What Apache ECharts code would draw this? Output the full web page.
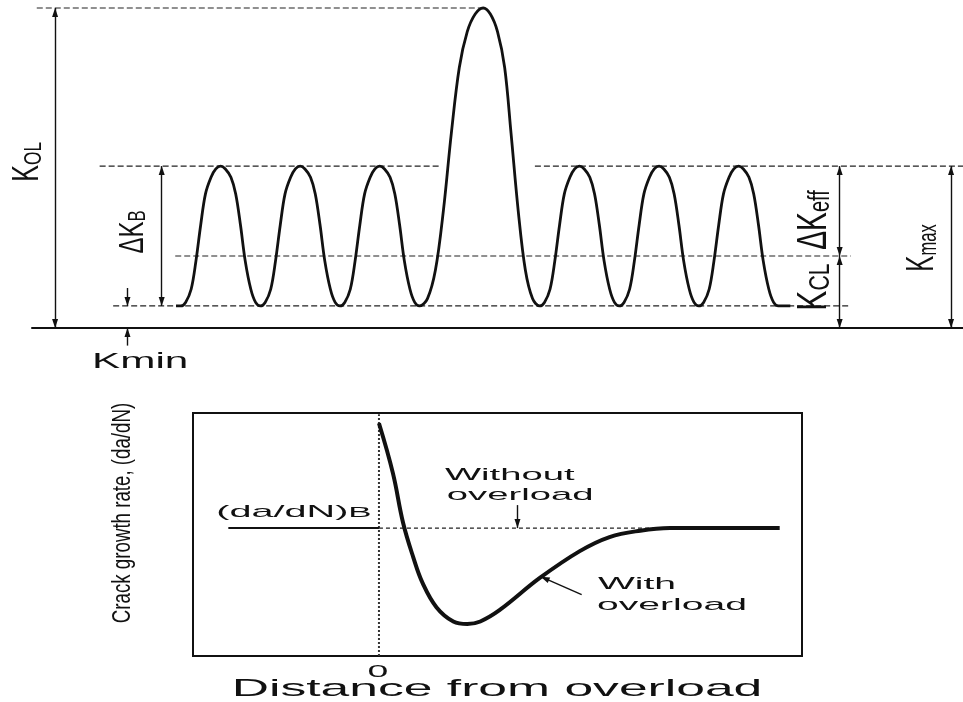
<!DOCTYPE html>
<html>
<head>
<meta charset="utf-8">
<script src="https://cdn.jsdelivr.net/npm/echarts@6/dist/echarts.min.js"></script>
<style>html,body{margin:0;padding:0;background:#fff}#c{width:963px;height:702px}</style>
</head>
<body>
<div id="c"></div>
<script>
// ================= DATA =================
// Top panel: stress-intensity levels (arbitrary units, baseline K = 0)
const K_OL = 10;
const K_MAX = 5.06;
const K_CL = 2.25;
const K_MIN = 0.69;

// Load sequence [time (cycles), K]
const loadPath = [
  [1.81, 0.69], [1.87, 0.69],
  [1.93, 0.80], [2.00, 1.21], [2.06, 2.09], [2.12, 3.22], [2.18, 4.19], [2.25, 4.71], [2.31, 4.97], [2.37, 5.06],
  [2.43, 4.97], [2.50, 4.71], [2.56, 4.19], [2.62, 3.22], [2.68, 2.09], [2.75, 1.21], [2.81, 0.80], [2.87, 0.69],
  [2.93, 0.80], [3.00, 1.21], [3.06, 2.09], [3.12, 3.22], [3.18, 4.19], [3.25, 4.71], [3.31, 4.97], [3.37, 5.06],
  [3.43, 4.97], [3.50, 4.71], [3.56, 4.19], [3.62, 3.22], [3.68, 2.09], [3.75, 1.21], [3.81, 0.80], [3.87, 0.69],
  [3.93, 0.80], [4.00, 1.21], [4.06, 2.09], [4.12, 3.22], [4.18, 4.19], [4.25, 4.71], [4.31, 4.97], [4.37, 5.06],
  [4.43, 4.97], [4.50, 4.71], [4.56, 4.19], [4.62, 3.22], [4.68, 2.09], [4.75, 1.21], [4.81, 0.80], [4.87, 0.69],
  [4.97, 0.92], [5.07, 1.81], [5.17, 3.67], [5.27, 6.09], [5.37, 8.14], [5.47, 9.26], [5.57, 9.81], [5.67, 10.0],
  [5.76, 9.81], [5.85, 9.26], [5.94, 8.14], [6.02, 6.09], [6.11, 3.67], [6.20, 1.81], [6.29, 0.92], [6.38, 0.69],
  [6.44, 0.80], [6.51, 1.21], [6.57, 2.09], [6.63, 3.22], [6.69, 4.19], [6.76, 4.71], [6.82, 4.97], [6.88, 5.06],
  [6.94, 4.97], [7.01, 4.71], [7.07, 4.19], [7.13, 3.22], [7.19, 2.09], [7.26, 1.21], [7.32, 0.80], [7.38, 0.69],
  [7.44, 0.80], [7.51, 1.21], [7.57, 2.09], [7.63, 3.22], [7.69, 4.19], [7.76, 4.71], [7.82, 4.97], [7.88, 5.06],
  [7.94, 4.97], [8.01, 4.71], [8.07, 4.19], [8.13, 3.22], [8.19, 2.09], [8.26, 1.21], [8.32, 0.80], [8.38, 0.69],
  [8.44, 0.80], [8.51, 1.21], [8.57, 2.09], [8.63, 3.22], [8.69, 4.19], [8.76, 4.71], [8.82, 4.97], [8.88, 5.06],
  [8.94, 4.97], [9.01, 4.71], [9.07, 4.19], [9.13, 3.22], [9.19, 2.09], [9.26, 1.21], [9.32, 0.80], [9.38, 0.69],
  [9.53, 0.69]
];

// Extents (time) of the dashed reference levels
const olLineSpan = [0.06, 5.67];
const maxLineLeft = [0.85, 5.13];
const maxLineRight = [6.32, 11.7];
const clLineSpan = [1.80, 10.29];
const minLineSpan = [1.02, 10.29];

// Bottom panel: crack growth rate vs distance from overload
const RATE_B = 1.0;
const rateWithOverload = [
  [0.00, 1.82], [0.15, 1.43], [0.26, 1.04], [0.37, 0.77], [0.47, 0.57], [0.62, 0.38],
  [0.80, 0.27], [0.95, 0.25], [1.09, 0.27], [1.30, 0.36], [1.73, 0.61], [2.16, 0.82],
  [2.48, 0.93], [2.81, 0.98], [3.13, 1.00], [3.50, 1.00], [4.31, 1.00]
];
const rateBeforeSpan = [-1.62, 0];
const rateWithoutSpan = [0, 3.0];
const overloadPosition = 0;

// ================= LAYOUT / STYLE =================
const FONT = "'Liberation Sans', Arial, Helvetica, sans-serif";
const INK = '#111';

function seg(gi, data, lineStyle, extra) {
  return Object.assign({
    type: 'line', xAxisIndex: gi, yAxisIndex: gi, data: data,
    symbol: 'none', showSymbol: false, clip: false, silent: true,
    animation: false, lineStyle: lineStyle, emphasis: { disabled: true }
  }, extra || {});
}

const dashTop = { color: '#222', width: 1.2, type: [6, 3] };

// Dimension arrows (annotation positions)
function arr(from, to, h0, h1) {
  return [
    { coord: from, symbol: h0 ? 'triangle' : 'none' },
    { coord: to, symbol: h1 ? 'triangle' : 'none' }
  ];
}
const topArrows = [
  arr([0.29, K_OL], [0.29, 0], true, true),
  arr([1.63, K_MAX], [1.63, K_MIN], true, true),
  arr([1.20, 1.25], [1.20, K_MIN], false, true),
  arr([1.20, -0.55], [1.20, 0], false, true),
  arr([10.15, K_MAX], [10.15, K_CL], true, true),
  arr([10.15, K_CL], [10.15, 0], true, true),
  arr([11.55, K_MAX], [11.55, 0], true, true)
];
const bottomArrows = [
  arr([1.49, 1.18], [1.49, RATE_B], false, true),
  arr([2.18, 0.48], [1.74, 0.62], false, true)
];
const markStyle = {
  silent: true, animation: false,
  symbolSize: [6, 9],
  symbolOffset: [[0, '50%'], [0, '50%']],
  label: { show: false },
  emphasis: { disabled: true },
  lineStyle: { color: INK, width: 1.4, type: 'solid' }
};

const chart = echarts.init(document.getElementById('c'));

const option = {
  backgroundColor: '#fff',
  animation: false,
  grid: [
    { left: 32, right: 0, top: 0, height: 376, show: false },
    { left: 193, top: 413, width: 609, height: 243, show: true, borderColor: INK, borderWidth: 2, backgroundColor: 'transparent' }
  ],
  xAxis: [
    { type: 'value', gridIndex: 0, min: 0, max: 11.7,
      axisLine: { show: true, onZero: true, lineStyle: { color: INK, width: 2 } },
      axisTick: { show: false }, axisLabel: { show: false }, splitLine: { show: false } },
    { type: 'value', gridIndex: 1, min: -2, max: 4.55,
      axisLine: { show: false }, axisTick: { show: false }, axisLabel: { show: false }, splitLine: { show: false } }
  ],
  yAxis: [
    { type: 'value', gridIndex: 0, min: -1.5, max: 10.25, show: false },
    { type: 'value', gridIndex: 1, min: 0, max: 1.9, show: false }
  ],
  series: [
    // top reference levels
    seg(0, [[olLineSpan[0], K_OL], [olLineSpan[1], K_OL]], dashTop),
    seg(0, [[maxLineLeft[0], K_MAX], [maxLineLeft[1], K_MAX]], dashTop),
    seg(0, [[maxLineRight[0], K_MAX], [maxLineRight[1], K_MAX]], dashTop),
    seg(0, [[clLineSpan[0], K_CL], [clLineSpan[1], K_CL]], dashTop),
    seg(0, [[minLineSpan[0], K_MIN], [minLineSpan[1], K_MIN]], dashTop,
      { markLine: Object.assign({ data: topArrows }, markStyle) }),
    // load sequence
    seg(0, loadPath, { color: INK, width: 2.8 }, { smooth: 0.35, z: 5 }),
    // bottom panel
    seg(1, [[overloadPosition, 0], [overloadPosition, 1.89]], { color: '#333', width: 2, type: [2, 2] }),
    seg(1, [[rateBeforeSpan[0], RATE_B], [rateBeforeSpan[1], RATE_B]], { color: INK, width: 2 }),
    seg(1, [[rateWithoutSpan[0], RATE_B], [rateWithoutSpan[1], RATE_B]], { color: '#222', width: 1.4, type: [4, 3] },
      { markLine: Object.assign({ data: bottomArrows }, markStyle) }),
    seg(1, rateWithOverload, { color: INK, width: 4 }, { smooth: 0.4, z: 5 })
  ]
};
chart.setOption(option);

// ================= TEXT LABELS (anchored in data space) =================
const labelSpecs = [
  { g: 0, at: [-0.05, 5.19], rot: 90, sx: 1.15, sy: 1.65, parts: [['K', 22], ['OL', 15]] },
  { g: 0, at: [1.27, 3.0], rot: 90, sx: 1.2, sy: 1.75, parts: [['\u0394K', 20], ['B', 14]] },
  { g: 0, at: [9.83, 3.375], rot: 90, sx: 1.18, sy: 1.75, parts: [['\u0394K', 24], ['eff', 17]] },
  { g: 0, at: [9.83, 1.28], rot: 90, sx: 1.25, sy: 1.75, parts: [['K', 24], ['CL', 17]] },
  { g: 0, at: [11.19, 2.5], rot: 90, sx: 1.1, sy: 1.75, parts: [['K', 22], ['max', 15]] },
  { g: 0, at: [1.36, -1.05], rot: 0, sx: 1.92, sy: 1, parts: [['K', 22], ['min', 22]] },
  { g: 1, at: [-0.914, 1.126], rot: 0, sx: 2.33, sy: 1, parts: [['(da/dN)', 17], ['B', 15]] },
  { g: 1, at: [0.71, 1.415], rot: 0, sx: 2.25, sy: 1, align: 'left', parts: [['Without', 17]] },
  { g: 1, at: [0.73, 1.259], rot: 0, sx: 2.25, sy: 1, align: 'left', parts: [['overload', 17]] },
  { g: 1, at: [2.355, 0.563], rot: 0, sx: 2.3, sy: 1, align: 'left', parts: [['With', 17]] },
  { g: 1, at: [2.345, 0.399], rot: 0, sx: 2.3, sy: 1, align: 'left', parts: [['overload', 17]] },
  { g: 1, at: [-0.01, -0.125], rot: 0, sx: 2.2, sy: 1, parts: [['0', 17]] },
  { g: 1, at: [1.27, -0.262], rot: 0, sx: 2.15, sy: 1, parts: [['Distance from overload', 24]] },
  { g: 1, at: [-2.76, 1.118], rot: 90, sx: 1.1, sy: 1.55, parts: [['Crack growth rate, (da/dN)', 17]] }
];

const graphics = labelSpecs.map(function (s) {
  const p = chart.convertToPixel({ gridIndex: s.g }, s.at);
  const rich = {};
  const text = s.parts.map(function (pt, i) {
    rich['p' + i] = { fontSize: pt[1], fontFamily: FONT, fill: INK, lineHeight: pt[1], verticalAlign: 'bottom' };
    return '{p' + i + '|' + pt[0] + '}';
  }).join('');
  return {
    type: 'text', x: p[0], y: p[1],
    rotation: s.rot * Math.PI / 180, scaleX: s.sx, scaleY: s.sy,
    silent: true, z: 10,
    style: { text: text, rich: rich, fontFamily: FONT, fontSize: s.parts[0][1], fill: INK,
             align: s.align || 'center', verticalAlign: 'middle' }
  };
});
chart.setOption({ graphic: graphics });
</script>
</body>
</html>
